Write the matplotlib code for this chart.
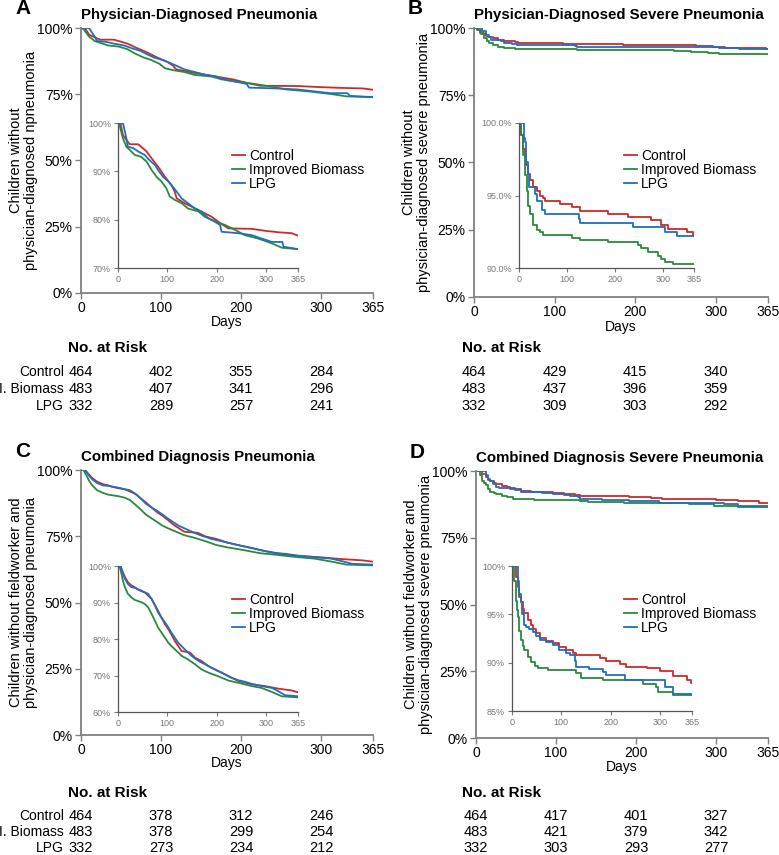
import matplotlib
matplotlib.use("Agg")
import matplotlib.pyplot as plt
from matplotlib.ticker import FixedLocator, FuncFormatter
import matplotlib.transforms as mtrans

plt.rcParams['font.family'] = ['Liberation Sans', 'DejaVu Sans']

# ---- data (day, % event-free) ----
groups = ["Control", "Improved Biomass", "LPG"]
risk_labels = ["Control", "I. Biomass", "LPG"]
risk_days = [0, 100, 200, 300]

# A: physician-diagnosed pneumonia
a_ctrl_day = [0, 5, 10, 20, 24, 41, 47, 58, 68, 81, 95, 108, 115, 119, 135, 149, 163, 176, 190, 203, 213, 224, 271, 298, 325, 352, 365]
a_ctrl_pct = [100, 100, 97.5, 96.1, 95.6, 95.6, 95.1, 94.1, 92.7, 91.0, 88.9, 87.2, 85.8, 84.4, 83.4, 82.7, 82.0, 81.3, 80.6, 79.6, 78.9, 78.2, 78.1, 77.7, 77.4, 77.2, 76.7]
a_ib_day = [0, 3, 10, 17, 27, 34, 47, 58, 68, 78, 88, 98, 105, 115, 129, 142, 163, 176, 196, 217, 237, 257, 284, 312, 332, 365]
a_ib_pct = [100, 99.6, 96.8, 95.1, 94.1, 93.4, 93.0, 92.0, 90.3, 88.9, 87.9, 86.5, 84.8, 84.1, 83.4, 82.3, 81.7, 80.6, 79.7, 78.9, 77.9, 76.8, 76.1, 75.1, 74.2, 73.9]
a_lpg_day = [0, 10, 14, 17, 20, 31, 41, 54, 64, 75, 81, 91, 102, 108, 119, 129, 142, 156, 169, 183, 196, 207, 210, 244, 271, 291, 312, 333, 336, 365]
a_lpg_pct = [100, 100, 98.2, 96.8, 95.1, 94.8, 94.1, 93.4, 92.3, 91.3, 90.3, 88.9, 87.9, 87.2, 85.8, 84.4, 83.4, 82.3, 81.7, 80.3, 79.6, 78.9, 77.5, 77.2, 76.8, 76.1, 75.4, 75.4, 74.4, 73.9]
a_risk = [[464, 402, 355, 284], [483, 407, 341, 296], [332, 289, 257, 241]]

# B: physician-diagnosed severe pneumonia
b_ctrl_day = [0, 4, 8, 12, 15, 19, 23, 30, 37, 44, 51, 55, 86, 111, 128, 185, 227, 276, 297, 311, 350, 362, 365]
b_ctrl_pct = [100, 99.2, 98.2, 97.8, 97.1, 96.5, 96.1, 95.6, 95.3, 95.0, 94.8, 94.6, 94.4, 94.2, 93.9, 93.7, 93.5, 93.3, 93.0, 92.7, 92.5, 92.2, 92.2]
b_ib_day = [0, 3, 5, 9, 12, 16, 19, 23, 30, 37, 44, 51, 111, 128, 185, 248, 255, 269, 290, 297, 304, 322, 365]
b_ib_pct = [100, 100, 99.2, 97.8, 96.4, 95.3, 94.3, 93.7, 93.0, 92.6, 92.5, 92.3, 92.1, 91.9, 91.8, 91.6, 91.4, 91.1, 90.8, 90.6, 90.4, 90.3, 90.3]
b_lpg_day = [0, 6, 10, 12, 15, 19, 21, 33, 37, 47, 54, 125, 128, 237, 304, 329, 365]
b_lpg_pct = [100, 100, 99.0, 98.7, 97.3, 96.5, 95.6, 95.1, 94.6, 94.0, 93.7, 93.4, 93.1, 92.8, 92.5, 92.2, 92.2]
b_risk = [[464, 429, 415, 340], [483, 437, 396, 359], [332, 309, 303, 292]]

# C: combined diagnosis pneumonia
c_ctrl_day = [0, 5, 10, 14, 20, 27, 34, 41, 47, 54, 61, 68, 75, 81, 88, 95, 102, 108, 115, 122, 129, 146, 156, 169, 183, 196, 210, 230, 244, 271, 298, 325, 352, 365]
c_ctrl_pct = [100, 100, 98.3, 97.0, 95.6, 94.7, 94.2, 93.5, 93.1, 92.8, 91.9, 91.0, 89.2, 87.8, 85.9, 84.1, 82.7, 81.3, 79.5, 78.1, 76.7, 76.3, 74.9, 74.0, 72.6, 71.7, 70.8, 69.4, 68.5, 67.6, 67.1, 66.4, 65.9, 65.4]
c_ib_day = [0, 3, 7, 10, 14, 20, 27, 34, 47, 54, 61, 68, 75, 81, 88, 95, 102, 108, 119, 129, 142, 156, 169, 183, 203, 224, 244, 271, 291, 312, 332, 365]
c_ib_pct = [100, 100, 97.9, 96.0, 94.2, 92.4, 91.4, 90.7, 90.1, 89.6, 88.7, 86.9, 85.0, 83.2, 81.8, 80.4, 79.0, 78.1, 76.7, 75.4, 74.4, 73.1, 71.7, 70.8, 69.8, 68.6, 68.0, 67.1, 66.6, 65.5, 64.3, 64.0]
c_lpg_day = [0, 5, 10, 14, 20, 27, 34, 47, 54, 61, 68, 75, 81, 88, 95, 102, 108, 115, 122, 135, 149, 163, 176, 190, 203, 217, 230, 244, 257, 271, 291, 312, 325, 339, 365]
c_lpg_pct = [100, 100, 97.9, 96.5, 95.1, 94.2, 94.0, 93.3, 92.8, 92.4, 91.0, 89.2, 87.3, 85.9, 84.6, 83.2, 81.8, 80.4, 79.0, 77.2, 75.4, 74.0, 73.1, 72.1, 71.2, 70.3, 69.4, 68.7, 68.3, 67.7, 67.1, 66.6, 65.7, 64.6, 64.3]
c_risk = [[464, 378, 312, 246], [483, 378, 299, 254], [332, 273, 234, 212]]

# D: combined diagnosis severe pneumonia
d_ctrl_day = [0, 5, 8, 12, 15, 18, 22, 25, 32, 39, 42, 49, 56, 69, 83, 96, 110, 124, 130, 178, 191, 219, 232, 273, 300, 327, 354, 362, 365]
d_ctrl_pct = [100, 100, 98.9, 97.8, 96.8, 96.3, 95.6, 95.1, 94.4, 93.9, 93.5, 93.1, 92.6, 92.2, 92.0, 91.6, 91.3, 91.0, 90.8, 90.5, 90.2, 89.9, 89.6, 89.4, 89.1, 88.6, 88.2, 87.9, 87.9]
d_ib_day = [0, 2, 5, 8, 10, 12, 15, 18, 22, 25, 32, 39, 46, 52, 73, 130, 140, 185, 266, 293, 297, 327, 365]
d_ib_pct = [100, 100, 98.5, 96.4, 95.5, 94.7, 93.3, 92.3, 91.7, 91.3, 90.6, 90.1, 89.7, 89.5, 89.2, 88.9, 88.4, 88.2, 87.8, 87.5, 87.0, 86.7, 86.7]
d_lpg_day = [0, 7, 12, 15, 18, 21, 25, 29, 35, 42, 49, 56, 69, 83, 96, 110, 117, 127, 130, 157, 185, 191, 229, 310, 327, 365]
d_lpg_pct = [100, 100, 98.5, 97.1, 96.3, 95.0, 93.9, 93.7, 93.5, 93.2, 92.8, 92.3, 92.1, 91.8, 91.3, 91.0, 90.8, 90.2, 89.6, 89.3, 89.0, 88.7, 88.2, 87.5, 86.8, 86.8]
d_risk = [[464, 417, 401, 327], [483, 421, 379, 342], [332, 303, 293, 277]]

colors = ['#cc2a2a', '#2a8a3c', '#1f6fc0']

W, H = 779, 855
fig = plt.figure(figsize=(W / 100, H / 100), dpi=100)


def fx(px):
    return px / W


def fy(py):
    return 1 - py / H


def px_axes(l, t, r, b):
    return fig.add_axes([fx(l), fy(b), (r - l) / W, (b - t) / H])


pct_fmt = FuncFormatter(lambda v, p: '%d%%' % round(v))

panels = [
    dict(letter='A', title='Physician-Diagnosed Pneumonia',
         ylabel='Children without\nphysician-diagnosed npneumonia',
         curves=[(a_ctrl_day, a_ctrl_pct), (a_ib_day, a_ib_pct), (a_lpg_day, a_lpg_pct)],
         risk=a_risk, main=(81, 28, 373, 293), inset=(118, 123, 298, 268),
         iy=[70, 80, 90, 100], ifmt='%d%%', step=False, leg=(232, 149),
         rows=(348, 372, 389, 406), days_y=322, labels=True),
    dict(letter='B', title='Physician-Diagnosed Severe Pneumonia',
         ylabel='Children without\nphysician-diagnosed severe pneumonia',
         curves=[(b_ctrl_day, b_ctrl_pct), (b_ib_day, b_ib_pct), (b_lpg_day, b_lpg_pct)],
         risk=b_risk, main=(474, 28, 768, 297), inset=(519, 123, 694, 268),
         iy=[90, 95, 100], ifmt='%.1f%%', step=True, leg=(624, 149),
         rows=(348, 372, 389, 406), days_y=327, labels=False),
    dict(letter='C', title='Combined Diagnosis Pneumonia',
         ylabel='Children without fieldworker and\nphysician-diagnosed pneumonia',
         curves=[(c_ctrl_day, c_ctrl_pct), (c_ib_day, c_ib_pct), (c_lpg_day, c_lpg_pct)],
         risk=c_risk, main=(81, 470, 373, 735), inset=(118, 566, 298, 712),
         iy=[60, 70, 80, 90, 100], ifmt='%d%%', step=False, leg=(232, 593),
         rows=(793, 816, 832, 848), days_y=763, labels=True),
    dict(letter='D', title='Combined Diagnosis Severe Pneumonia',
         ylabel='Children without fieldworker and\nphysician-diagnosed severe pneumonia',
         curves=[(d_ctrl_day, d_ctrl_pct), (d_ib_day, d_ib_pct), (d_lpg_day, d_lpg_pct)],
         risk=d_risk, main=(476, 471, 768, 738), inset=(512, 566, 692, 711),
         iy=[85, 90, 95, 100], ifmt='%d%%', step=True, leg=(624, 593),
         rows=(793, 816, 832, 848), days_y=767, labels=False),
]

for p in panels:
    l, t, r, b = p['main']
    ax = px_axes(l, t, r, b)
    ds = 'steps-post' if p['step'] else 'default'
    for (d, v), c in zip(p['curves'], colors):
        ax.plot(d, v, color=c, lw=1.3, drawstyle=ds)
    ax.set_xlim(0, 365)
    ax.set_ylim(0, 100)
    ax.xaxis.set_major_locator(FixedLocator([0, 100, 200, 300, 365]))
    ax.yaxis.set_major_locator(FixedLocator([0, 25, 50, 75, 100]))
    ax.yaxis.set_major_formatter(pct_fmt)
    for s in ['top', 'right']:
        ax.spines[s].set_visible(False)
    for s in ['left', 'bottom']:
        ax.spines[s].set_color('#808080')
        ax.spines[s].set_linewidth(1.3)
    ax.tick_params(length=4, width=1, color='#808080', labelsize=10, pad=2)
    ax.set_ylabel(p['ylabel'], fontsize=10.5, linespacing=1.05)
    # right edge of the two-line label sits ~43 px left of the axis
    ax.yaxis.set_label_coords(-43 / (r - l), 0.5)
    fig.text(fx((l + r) / 2), fy(p['days_y']), 'Days', fontsize=10, ha='center', va='center')
    fig.text(fx(l), fy(t - 13), p['title'], fontsize=10.8, fontweight='bold',
             ha='left', va='center')
    fig.text(fx(l - 66), fy(t - 19), p['letter'], fontsize=15, fontweight='bold',
             ha='left', va='center')

    # inset zoomed view
    il, it, ir, ib = p['inset']
    ia = px_axes(il, it, ir, ib)
    ia.patch.set_alpha(0)
    lines = []
    for (d, v), c, g in zip(p['curves'], colors, groups):
        ln, = ia.plot(d, v, color=c, lw=1.3, drawstyle=ds, label=g)
        lines.append(ln)
    ia.set_xlim(0, 365)
    ia.set_ylim(p['iy'][0], 100)
    ia.xaxis.set_major_locator(FixedLocator([0, 100, 200, 300, 365]))
    ia.yaxis.set_major_locator(FixedLocator(p['iy']))
    fmt = p['ifmt']
    ia.yaxis.set_major_formatter(FuncFormatter(lambda v, pos, fmt=fmt: fmt % v))
    for s in ['top', 'right']:
        ia.spines[s].set_visible(False)
    for s in ['left', 'bottom']:
        ia.spines[s].set_color('#555555')
        ia.spines[s].set_linewidth(0.9)
    ia.tick_params(length=3, width=0.8, color='#777777', labelsize=6.5,
                   labelcolor='#777777', pad=2)
    lx, ly = p['leg']
    ia.legend(handles=lines, loc='upper left', bbox_to_anchor=(fx(lx), fy(ly)),
              bbox_transform=fig.transFigure, frameon=False, fontsize=10,
              handlelength=0.9, handletextpad=0.35, labelspacing=0.0,
              borderpad=0, borderaxespad=0)

    # number at risk table
    hy, r1, r2, r3 = p['rows']
    tx = 68 if p['labels'] else 462
    fig.text(fx(tx), fy(hy), 'No. at Risk', fontsize=11, fontweight='bold',
             ha='left', va='center')
    trans = mtrans.blended_transform_factory(ax.transData, fig.transFigure)
    for row_y, lab, vals in zip((r1, r2, r3), risk_labels, p['risk']):
        if p['labels']:
            fig.text(fx(64), fy(row_y), lab, fontsize=10, ha='right', va='center')
        for dday, n in zip(risk_days, vals):
            ax.text(dday, fy(row_y), str(n), transform=trans, fontsize=10.5,
                    ha='center', va='center', clip_on=False)

fig.savefig('out.png', dpi=100)
